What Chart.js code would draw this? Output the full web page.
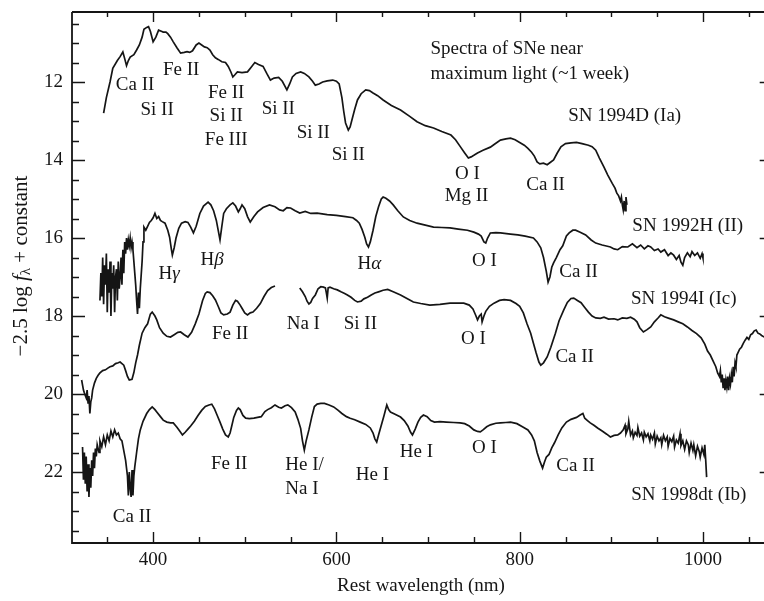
<!DOCTYPE html>
<html>
<head>
<meta charset="utf-8">
<title>Spectra of SNe near maximum light</title>
<script src="https://cdn.jsdelivr.net/npm/chart.js@4.4.1/dist/chart.umd.min.js"></script>
<style>
  html, body { margin: 0; padding: 0; background: #fff; }
  #wrap { position: relative; width: 764px; height: 601px; }
</style>
</head>
<body>
<div id="wrap"><canvas id="chartSpectra"></canvas></div>
<script>
// [rest wavelength nm, -2.5 log f + const]
const SN1994D = [
  [346, 12.8], [349, 12.4], [353, 12.0], [356, 11.65], [361, 11.45], [364, 11.35], [367, 11.23], [369, 11.4],
  [371, 11.58], [373, 11.45], [375, 11.36], [379, 11.3], [382, 11.18], [385, 11.05], [388, 10.85], [390, 10.65],
  [393, 10.6], [395, 10.58], [397, 10.7], [400, 10.97], [403, 10.85], [406, 10.67], [409, 10.7], [411, 10.72],
  [414, 10.72], [416, 10.76], [419, 10.85], [422, 10.97], [426, 11.12], [430, 11.26], [434, 11.24], [437, 11.22],
  [440, 11.24], [443, 11.2], [447, 11.05], [450, 11.0], [453, 11.05], [456, 11.1], [459, 11.12], [462, 11.18],
  [465, 11.3], [468, 11.38], [471, 11.42], [475, 11.48], [479, 11.5], [482, 11.6], [485, 11.75], [487, 11.87],
  [489, 11.82], [492, 11.74], [497, 11.76], [503, 11.74], [507, 11.62], [511, 11.5], [515, 11.55], [520, 11.6],
  [524, 11.78], [528, 11.95], [532, 11.9], [537, 11.88], [541, 11.98], [546, 12.2], [549, 12.05], [552, 11.87],
  [556, 11.78], [561, 11.74], [565, 11.78], [570, 11.87], [574, 11.98], [577, 12.08], [581, 12.05], [585, 12.0],
  [590, 11.97], [596, 11.95], [600, 11.98], [603, 12.05], [606, 12.4], [608, 12.75], [610, 13.05], [613, 13.23],
  [615, 13.15], [617, 12.97], [620, 12.7], [623, 12.46], [627, 12.3], [632, 12.2], [636, 12.22], [640, 12.28],
  [645, 12.35], [651, 12.46], [660, 12.6], [670, 12.72], [680, 12.88], [688, 13.02], [697, 13.12], [706, 13.18],
  [715, 13.27], [725, 13.36], [730, 13.48], [735, 13.65], [740, 13.82], [744, 13.95], [747, 13.92], [750, 13.88],
  [754, 13.82], [760, 13.75], [768, 13.67], [774, 13.57], [779, 13.49], [785, 13.46], [790, 13.44], [795, 13.48],
  [800, 13.55], [805, 13.62], [809, 13.7], [813, 13.8], [816, 13.9], [819, 14.05], [822, 14.1], [826, 14.08],
  [830, 14.12], [834, 14.05], [837, 14.0], [841, 13.82], [845, 13.66], [850, 13.58], [856, 13.56], [862, 13.55],
  [868, 13.58], [875, 13.62], [879, 13.66], [883, 13.75], [887, 13.95], [892, 14.18], [896, 14.38], [901, 14.6],
  [904, 14.72], [906, 14.85], [908, 14.92], [910, 15.05], [911, 14.95], [912, 15.15], [913, 15.28], [914, 15.05],
  [915, 15.3], [916, 14.95], [917, 15.15],
];

const SN1992H = [
  [342, 17.6], [343, 16.9], [344, 17.5], [345, 16.5], [346, 17.7], [347, 16.7], [348, 17.2], [349, 16.4],
  [350, 17.9], [351, 16.8], [352, 17.4], [353, 16.6], [354, 18.0], [355, 16.9], [356, 17.3], [357, 16.7],
  [358, 17.9], [359, 17.0], [360, 16.8], [361, 17.6], [362, 16.6], [363, 17.3], [364, 17.0], [365, 16.5],
  [366, 17.2], [367, 16.3], [368, 16.9], [369, 16.1], [370, 16.4], [371, 16.0], [372, 16.3], [373, 16.05],
  [374, 16.2], [375, 16.0], [376, 16.25], [377, 16.1], [378, 16.3], [379, 16.6], [380, 16.9], [381, 17.2],
  [382, 17.6], [383, 17.95], [384, 17.4], [385, 17.8], [386, 17.3], [388, 16.6], [389, 16.1], [390, 15.72],
  [392, 15.8], [394, 15.7], [396, 15.6], [398, 15.55], [400, 15.48], [402, 15.37], [404, 15.5], [406, 15.45],
  [408, 15.55], [410, 15.58], [413, 15.62], [416, 15.8], [418, 15.98], [420, 16.3], [421, 16.44], [423, 16.25],
  [425, 16.0], [428, 15.75], [431, 15.62], [435, 15.58], [438, 15.6], [441, 15.72], [444, 15.87], [447, 15.7],
  [451, 15.37], [455, 15.18], [460, 15.08], [463, 15.15], [466, 15.3], [469, 15.55], [471, 15.8], [473, 16.05],
  [475, 15.7], [477, 15.37], [480, 15.25], [484, 15.15], [487, 15.1], [490, 15.18], [493, 15.33], [495, 15.25],
  [497, 15.15], [500, 15.25], [503, 15.45], [506, 15.59], [510, 15.45], [514, 15.33], [520, 15.22], [527, 15.15],
  [533, 15.2], [538, 15.28], [542, 15.3], [546, 15.22], [550, 15.23], [555, 15.3], [560, 15.36], [566, 15.32],
  [572, 15.37], [579, 15.36], [590, 15.4], [600, 15.42], [610, 15.45], [618, 15.48], [622, 15.55], [625, 15.62],
  [628, 15.78], [631, 15.98], [633, 16.15], [635, 16.23], [637, 16.1], [640, 15.8], [643, 15.45], [646, 15.2],
  [649, 15.0], [651, 14.95], [654, 14.98], [658, 15.05], [662, 15.15], [667, 15.3], [673, 15.46], [680, 15.55],
  [688, 15.62], [697, 15.67], [706, 15.72], [715, 15.73], [724, 15.74], [733, 15.77], [743, 15.8], [750, 15.85],
  [755, 15.9], [758, 15.95], [761, 16.1], [763, 16.13], [765, 16.0], [768, 15.87], [774, 15.86], [779, 15.87],
  [790, 15.9], [798, 15.92], [806, 15.95], [815, 16.0], [819, 16.1], [823, 16.25], [826, 16.5], [829, 16.85],
  [831, 17.13], [833, 17.0], [835, 16.75], [837, 16.64], [840, 16.5], [844, 16.3], [847, 16.2], [851, 15.95],
  [854, 15.87], [858, 15.8], [861, 15.8], [866, 15.85], [872, 15.92], [878, 16.05], [883, 16.13], [890, 16.18],
  [899, 16.23], [903, 16.28], [907, 16.3], [912, 16.22], [918, 16.23], [923, 16.15], [928, 16.25], [932, 16.18],
  [936, 16.28], [940, 16.2], [943, 16.23], [947, 16.32], [951, 16.28], [954, 16.36], [958, 16.3], [962, 16.45],
  [965, 16.38], [968, 16.44], [971, 16.55], [974, 16.45], [976, 16.62], [978, 16.7], [980, 16.5], [983, 16.38],
  [986, 16.48], [988, 16.35], [991, 16.45], [994, 16.38], [997, 16.52], [999, 16.4], [1000, 16.51],
];

// gap in the SN 1994I spectrum between 533 and 560 nm
const SN1994I = [
  [322, 19.64], [324, 19.9], [325, 19.97], [327, 20.1], [328, 19.9], [329, 20.23], [330, 20.05], [331, 20.5],
  [332, 20.2], [333, 20.1], [334, 19.9], [336, 19.72], [338, 19.6], [340, 19.52], [342, 19.46], [345, 19.4],
  [348, 19.38], [351, 19.33], [353, 19.3], [356, 19.28], [359, 19.22], [362, 19.2], [364, 19.18], [366, 19.22],
  [368, 19.26], [370, 19.4], [372, 19.55], [374, 19.64], [377, 19.62], [379, 19.45], [381, 19.2], [383, 19.0],
  [385, 18.75], [388, 18.44], [391, 18.3], [394, 18.2], [397, 17.95], [399, 17.9], [402, 18.0], [404, 18.1],
  [407, 18.3], [411, 18.44], [415, 18.52], [419, 18.54], [423, 18.48], [427, 18.42], [430, 18.41], [434, 18.48],
  [438, 18.54], [442, 18.42], [446, 18.2], [450, 17.95], [454, 17.6], [457, 17.42], [459, 17.38], [462, 17.4],
  [465, 17.48], [468, 17.59], [471, 17.75], [474, 17.92], [477, 17.97], [481, 17.95], [484, 17.9], [487, 17.72],
  [490, 17.6], [492, 17.62], [495, 17.72], [497, 17.8], [500, 17.92], [503, 17.97], [506, 17.92], [509, 17.9],
  [513, 17.8], [517, 17.68], [521, 17.5], [525, 17.35], [529, 17.27], [533, 17.23], [545, null],
  [560, 17.28], [563, 17.38], [566, 17.5], [568, 17.62], [570, 17.69], [572, 17.65], [574, 17.55], [577, 17.46],
  [580, 17.3], [583, 17.25], [586, 17.26], [588, 17.28], [589, 17.4], [590, 17.54], [591, 17.28], [593, 17.26],
  [597, 17.3], [601, 17.33], [605, 17.38], [609, 17.42], [612, 17.46], [616, 17.52], [620, 17.6], [623, 17.64],
  [627, 17.62], [630, 17.56], [634, 17.52], [638, 17.46], [642, 17.41], [646, 17.38], [651, 17.34], [656, 17.32],
  [662, 17.38], [670, 17.46], [677, 17.55], [684, 17.64], [692, 17.68], [702, 17.72], [713, 17.7], [724, 17.67],
  [732, 17.67], [739, 17.67], [745, 17.72], [749, 17.82], [752, 17.98], [754, 18.1], [756, 18.0], [758, 17.95],
  [759, 18.15], [761, 18.0], [763, 17.88], [767, 17.75], [772, 17.67], [778, 17.6], [783, 17.58], [790, 17.6],
  [796, 17.68], [800, 17.75], [804, 17.92], [808, 18.2], [812, 18.44], [815, 18.7], [818, 18.95], [821, 19.18],
  [823, 19.26], [826, 19.2], [830, 19.05], [834, 18.8], [839, 18.44], [843, 18.12], [848, 17.85], [852, 17.65],
  [856, 17.55], [859, 17.54], [863, 17.6], [867, 17.66], [871, 17.78], [875, 17.9], [879, 18.0], [883, 18.05],
  [888, 18.06], [892, 18.03], [897, 18.08], [903, 18.07], [907, 18.1], [912, 18.05], [917, 18.06], [921, 18.03],
  [925, 18.08], [928, 18.15], [931, 18.3], [935, 18.41], [939, 18.35], [943, 18.28], [947, 18.15], [951, 18.05],
  [954, 17.97], [958, 18.02], [963, 18.06], [968, 18.1], [973, 18.15], [978, 18.2], [983, 18.28], [988, 18.37],
  [993, 18.45], [998, 18.56], [1002, 18.72], [1005, 18.9], [1008, 19.0], [1011, 19.15], [1014, 19.3], [1016, 19.46],
  [1018, 19.55], [1019, 19.4], [1020, 19.7], [1021, 19.5], [1022, 19.85], [1023, 19.6], [1024, 19.9], [1025, 19.65],
  [1026, 19.82], [1027, 19.55], [1028, 19.9], [1029, 19.6], [1030, 19.75], [1031, 19.5], [1032, 19.7], [1033, 19.3],
  [1034, 19.55], [1035, 19.2], [1036, 19.3], [1037, 19.0], [1038, 18.95], [1040, 18.85], [1042, 18.8], [1044, 18.7],
  [1046, 18.62], [1048, 18.55], [1050, 18.6], [1052, 18.48], [1054, 18.45], [1056, 18.38], [1058, 18.36], [1060, 18.44],
  [1062, 18.46], [1064, 18.5], [1067, 18.54],
];

const SN1998DT = [
  [323, 21.36], [324, 22.2], [325, 21.5], [326, 22.3], [327, 21.6], [328, 22.5], [329, 21.8], [330, 22.64],
  [331, 21.9], [332, 22.4], [333, 21.7], [334, 22.1], [335, 21.5], [336, 21.9], [337, 21.4], [338, 21.6],
  [339, 21.3], [341, 21.5], [342, 21.2], [344, 21.35], [346, 21.1], [348, 21.3], [350, 21.05], [352, 21.2],
  [354, 20.95], [356, 21.1], [358, 20.92], [360, 21.05], [362, 21.0], [364, 21.15], [366, 21.2], [368, 21.45],
  [370, 21.7], [372, 22.1], [373, 22.6], [374, 22.0], [375, 22.4], [376, 22.64], [377, 21.95], [378, 22.6],
  [379, 22.1], [380, 21.87], [382, 21.5], [384, 21.15], [386, 20.92], [389, 20.7], [393, 20.5], [396, 20.4],
  [399, 20.33], [402, 20.4], [404, 20.46], [408, 20.58], [411, 20.67], [415, 20.72], [419, 20.74], [422, 20.74],
  [426, 20.85], [429, 20.95], [432, 21.05], [435, 20.98], [438, 20.9], [441, 20.82], [445, 20.7], [449, 20.55],
  [453, 20.42], [457, 20.32], [461, 20.28], [464, 20.26], [467, 20.38], [470, 20.55], [473, 20.72], [476, 20.9],
  [479, 21.05], [482, 21.1], [484, 21.0], [486, 20.8], [488, 20.6], [491, 20.42], [493, 20.36], [495, 20.4],
  [498, 20.55], [501, 20.62], [505, 20.63], [510, 20.62], [514, 20.6], [518, 20.58], [522, 20.45], [525, 20.4],
  [529, 20.35], [533, 20.28], [537, 20.34], [540, 20.36], [544, 20.3], [547, 20.28], [551, 20.35], [555, 20.46],
  [558, 20.65], [561, 20.88], [563, 21.2], [565, 21.44], [567, 21.2], [570, 20.92], [573, 20.6], [576, 20.32],
  [579, 20.26], [583, 20.24], [587, 20.24], [592, 20.28], [597, 20.33], [602, 20.42], [606, 20.5], [611, 20.58],
  [615, 20.62], [620, 20.66], [626, 20.72], [632, 20.78], [637, 20.87], [640, 21.0], [642, 21.15], [644, 21.23],
  [646, 21.05], [649, 20.8], [652, 20.55], [655, 20.28], [657, 20.4], [659, 20.46], [664, 20.52], [670, 20.59],
  [674, 20.68], [678, 20.82], [681, 20.98], [683, 21.05], [686, 20.9], [689, 20.72], [692, 20.6], [695, 20.54],
  [699, 20.58], [703, 20.68], [707, 20.72], [713, 20.71], [720, 20.72], [728, 20.73], [735, 20.74], [740, 20.76],
  [745, 20.82], [750, 20.92], [754, 20.96], [757, 20.97], [760, 20.92], [764, 20.84], [768, 20.79], [774, 20.75],
  [779, 20.74], [785, 20.73], [790, 20.72], [797, 20.76], [803, 20.84], [809, 20.92], [813, 21.05], [816, 21.2],
  [819, 21.5], [822, 21.72], [825, 21.9], [827, 21.75], [829, 21.62], [832, 21.55], [835, 21.38], [838, 21.25],
  [842, 21.05], [846, 20.87], [851, 20.72], [856, 20.65], [862, 20.6], [866, 20.54], [869, 20.5], [871, 20.62],
  [874, 20.68], [877, 20.74], [881, 20.8], [885, 20.87], [890, 20.95], [895, 21.03], [899, 21.1], [903, 21.06],
  [907, 21.05], [910, 21.0], [913, 20.92], [915, 20.8], [916, 21.02], [918, 20.9], [919, 20.7], [921, 21.05],
  [923, 20.95], [924, 21.12], [926, 20.98], [928, 21.06], [929, 20.86], [931, 21.08], [933, 21.0], [935, 21.18],
  [936, 20.98], [938, 21.1], [940, 21.02], [942, 21.2], [943, 21.05], [945, 21.16], [947, 21.0], [948, 21.28],
  [950, 21.08], [952, 21.2], [954, 21.12], [955, 21.3], [957, 21.06], [959, 21.2], [961, 21.1], [962, 21.34],
  [964, 21.14], [966, 21.22], [968, 21.08], [969, 21.36], [971, 21.18], [973, 21.26], [975, 21.02], [976, 21.32],
  [978, 21.2], [980, 21.42], [982, 21.2], [984, 21.3], [985, 21.5], [987, 21.26], [989, 21.45], [990, 21.3],
  [992, 21.58], [994, 21.34], [996, 21.48], [997, 21.62], [999, 21.38], [1001, 21.55], [1002, 21.3], [1003, 21.7],
  [1004, 22.13],
];

const X_TICK_LABELS = [400, 600, 800, 1000];
const Y_TICK_LABELS = [12, 14, 16, 18, 20, 22];

// [text, wavelength nm, magnitude, align]
const LINE_LABELS = [
  ['Spectra of SNe near', 702.6, 11.15, 'left'],
  ['maximum light (~1 week)', 702.6, 11.79, 'left'],
  ['SN 1994D (Ia)', 914.6, 12.87],
  ['Ca II', 380.3, 12.08],
  ['Si II', 404.4, 12.72],
  ['Fe II', 430.6, 11.69],
  ['Fe II', 479.8, 12.28],
  ['Si II', 479.8, 12.87],
  ['Fe III', 479.8, 13.49],
  ['Si II', 536.6, 12.69],
  ['Si II', 574.8, 13.31],
  ['Si II', 613.0, 13.87],
  ['O I', 743.0, 14.36],
  ['Mg II', 742.0, 14.92],
  ['Ca II', 828.3, 14.64],
  ['SN 1992H (II)', 983.4, 15.69],
  ['Hγ', 417.5, 16.92],
  ['Hβ', 464.5, 16.56],
  ['Hα', 636.0, 16.67],
  ['O I', 761.6, 16.59],
  ['Ca II', 864.3, 16.87],
  ['SN 1994I (Ic)', 979.0, 17.56],
  ['Fe II', 484.1, 18.46],
  ['Na I', 563.9, 18.21],
  ['Si II', 626.2, 18.21],
  ['O I', 749.6, 18.59],
  ['Ca II', 860.0, 19.05],
  ['Ca II', 377.0, 23.15],
  ['Fe II', 483.0, 21.79],
  ['He I/', 544.2, 21.82, 'left'],
  ['Na I', 544.2, 22.44, 'left'],
  ['He I', 639.3, 22.08],
  ['He I', 687.3, 21.49],
  ['O I', 761.6, 21.38],
  ['Ca II', 861.0, 21.85],
  ['SN 1998dt (Ib)', 984.5, 22.59],
];

const SERIF = '"Liberation Serif", "Times New Roman", serif';
const INK = '#151515';

function toPoints(rows) {
  return rows.map(([x, y]) => ({ x, y }));
}

function drawMixed(ctx, text, x, y, align, size) {
  // greek letters in italic, like the math font of the original
  const parts = [];
  for (const ch of text) {
    const italic = /[\u0370-\u03ff]/.test(ch);
    const last = parts[parts.length - 1];
    if (last && last.italic === italic) {
      last.t += ch;
    } else {
      parts.push({ t: ch, italic });
    }
  }
  let total = 0;
  parts.forEach((p) => {
    ctx.font = `${p.italic ? 'italic ' : ''}${size}px ${SERIF}`;
    p.w = ctx.measureText(p.t).width;
    total += p.w;
  });
  let cx = align === 'left' ? x : x - total / 2;
  ctx.textAlign = 'left';
  ctx.textBaseline = 'middle';
  parts.forEach((p) => {
    ctx.font = `${p.italic ? 'italic ' : ''}${size}px ${SERIF}`;
    ctx.fillText(p.t, cx, y);
    cx += p.w;
  });
}

const spectraDecor = {
  id: 'spectraDecor',
  afterDraw(chart) {
    const { ctx, chartArea } = chart;
    const { left, right, top, bottom } = chartArea;
    const xs = chart.scales.x;
    const ys = chart.scales.y;

    ctx.save();
    ctx.strokeStyle = INK;
    ctx.fillStyle = INK;

    // frame (right edge falls outside the picture)
    ctx.lineWidth = 1.8;
    ctx.beginPath();
    ctx.moveTo(left, top);
    ctx.lineTo(chart.width, top);
    ctx.moveTo(left, top);
    ctx.lineTo(left, bottom);
    ctx.lineTo(chart.width, bottom);
    ctx.stroke();

    // inward ticks
    ctx.lineWidth = 1.4;
    ctx.beginPath();
    for (let v = 350; v <= 1050; v += 50) {
      const px = Math.round(xs.getPixelForValue(v)) + 0.5;
      const major = v % 200 === 0;
      ctx.moveTo(px, bottom);
      ctx.lineTo(px, bottom - (major ? 11 : 6));
      ctx.moveTo(px, top);
      ctx.lineTo(px, top + (major ? 10 : 5));
    }
    for (let v = 10.5; v <= 23.5; v += 0.5) {
      const py = Math.round(ys.getPixelForValue(v)) + 0.5;
      const major = v % 2 === 0;
      ctx.moveTo(left, py);
      ctx.lineTo(left + (major ? 13 : 7), py);
    }
    const rightAxis = xs.getPixelForValue(1075);
    Y_TICK_LABELS.forEach((v) => {
      const py = Math.round(ys.getPixelForValue(v)) + 0.5;
      ctx.moveTo(rightAxis, py);
      ctx.lineTo(rightAxis - 12, py);
    });
    ctx.stroke();

    // line identifications
    LINE_LABELS.forEach(([text, wl, mag, align]) => {
      drawMixed(ctx, text, xs.getPixelForValue(wl), ys.getPixelForValue(mag), align, 19);
    });

    // x title
    ctx.font = `19px ${SERIF}`;
    ctx.textAlign = 'center';
    ctx.textBaseline = 'middle';
    ctx.fillText('Rest wavelength (nm)', (left + right) / 2 + 3, 586);

    // y title: −2.5 log f_λ + constant
    ctx.translate(21, 266);
    ctx.rotate(-Math.PI / 2);
    const size = 21;
    const segs = [
      { t: '\u22122.5 log ', f: `${size}px ${SERIF}`, dy: 0 },
      { t: 'f', f: `italic ${size}px ${SERIF}`, dy: 0 },
      { t: 'λ', f: `${Math.round(size * 0.7)}px ${SERIF}`, dy: 5 },
      { t: ' + constant', f: `${size}px ${SERIF}`, dy: 0 },
    ];
    let total = 0;
    segs.forEach((s) => {
      ctx.font = s.f;
      s.w = ctx.measureText(s.t).width;
      total += s.w;
    });
    let cx = -total / 2;
    ctx.textAlign = 'left';
    segs.forEach((s) => {
      ctx.font = s.f;
      ctx.fillText(s.t, cx, s.dy);
      cx += s.w;
    });
    ctx.restore();
  },
};

const lineStyle = {
  showLine: true,
  borderColor: INK,
  borderWidth: 1.7,
  pointRadius: 0,
  spanGaps: false,
  tension: 0,
};

const canvas = document.getElementById('chartSpectra');
new Chart(canvas.getContext('2d'), {
  type: 'scatter',
  data: {
    datasets: [
      { label: 'SN 1994D (Ia)', data: toPoints(SN1994D), ...lineStyle },
      { label: 'SN 1992H (II)', data: toPoints(SN1992H), ...lineStyle },
      { label: 'SN 1994I (Ic)', data: toPoints(SN1994I), ...lineStyle },
      { label: 'SN 1998dt (Ib)', data: toPoints(SN1998DT), ...lineStyle },
    ],
  },
  options: {
    responsive: true,
    maintainAspectRatio: false,
    animation: false,
    layout: { padding: { top: 12, right: 0, bottom: 0, left: 0 } },
    plugins: {
      legend: { display: false },
      tooltip: { enabled: false },
    },
    scales: {
      x: {
        type: 'linear',
        min: 311.5,
        max: 1066.6,
        grid: { display: false, drawTicks: false },
        border: { display: false },
        afterBuildTicks(scale) {
          scale.ticks = X_TICK_LABELS.map((value) => ({ value }));
        },
        afterFit(scale) {
          scale.height = 58;
          scale.paddingLeft = 0;
          scale.paddingRight = 0;
        },
        ticks: {
          color: INK,
          padding: 6,
          maxRotation: 0,
          font: { family: SERIF, size: 19 },
          callback: (value) => String(value),
        },
      },
      y: {
        reverse: true,
        min: 10.205,
        max: 23.82,
        grid: { display: false, drawTicks: false },
        border: { display: false },
        afterBuildTicks(scale) {
          scale.ticks = Y_TICK_LABELS.map((value) => ({ value }));
        },
        afterFit(scale) {
          scale.width = 72;
          scale.paddingTop = 0;
          scale.paddingBottom = 0;
        },
        ticks: {
          color: INK,
          padding: 9,
          font: { family: SERIF, size: 19 },
          callback: (value) => String(value),
        },
      },
    },
  },
  plugins: [spectraDecor],
});
</script>
